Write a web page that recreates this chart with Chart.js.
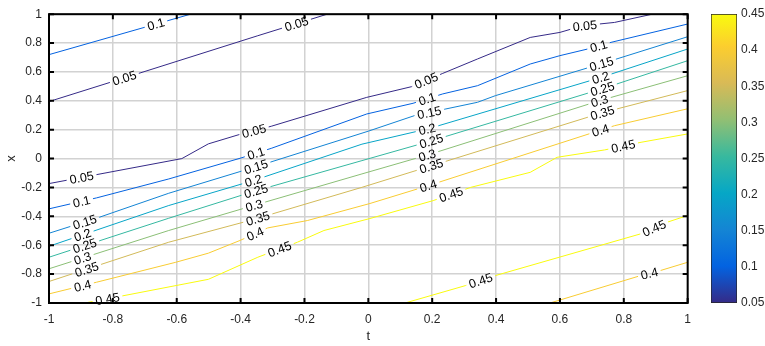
<!DOCTYPE html>
<html>
<head>
<meta charset="utf-8">
<script src="https://cdn.jsdelivr.net/npm/chart.js@4.4.1/dist/chart.umd.min.js"></script>
<style>
html,body{margin:0;padding:0;background:#fff;}
#wrap{position:relative;width:765px;height:346px;overflow:hidden;background:#fff;}
#main{position:absolute;left:0;top:0;}
#cbar{position:absolute;left:700px;top:0;}
</style>
</head>
<body>
<div id="wrap">
<canvas id="main" width="700" height="346"></canvas>
<canvas id="cbar" width="65" height="346"></canvas>
</div>
<script>
// ---------------- data ----------------
const T_TICKS = [-1, -0.8, -0.6, -0.4, -0.2, 0, 0.2, 0.4, 0.6, 0.8, 1];
const X_TICKS = [-1, -0.8, -0.6, -0.4, -0.2, 0, 0.2, 0.4, 0.6, 0.8, 1];
const CB_TICKS = [0.05, 0.1, 0.15, 0.2, 0.25, 0.3, 0.35, 0.4, 0.45];
const LEVEL_MIN = 0.05, LEVEL_MAX = 0.45;

// contour polylines: t values, x values, label positions (t)
const c005top_t = [-1, -0.712, -0.346, -0.129];
const c005top_x = [0.395, 0.595, 0.851, 1.0];
const c005top_lab = [-0.764, -0.225];

const c010top_t = [-1, -0.557];
const c010top_x = [0.72, 1.0];
const c010top_lab = [-0.665];

const c005_t = [-1, -0.584, -0.501, -0.408, -0.304, -0.005, 0.135, 0.233, 0.342, 0.507, 0.600, 0.671, 0.771, 0.889];
const c005_x = [-0.173, 0.0, 0.102, 0.164, 0.224, 0.424, 0.498, 0.590, 0.690, 0.839, 0.874, 0.920, 0.943, 1.0];
const c005_lab = [-0.898, -0.358, 0.181, 0.678];

const c010_t = [-1, -0.851, -0.625, -0.402, -0.304, -0.005, 0.140, 0.233, 0.342, 0.507, 0.600, 0.687, 0.760, 1.0];
const c010_x = [-0.348, -0.272, -0.141, 0.002, 0.071, 0.309, 0.383, 0.448, 0.505, 0.655, 0.713, 0.759, 0.805, 0.932];
const c010_lab = [-0.898, -0.352, 0.184, 0.721];

const c015_t = [-1, -0.842, -0.625, -0.402, -0.309, 0, 0.145, 0.243, 0.342, 0.398, 0.73, 1];
const c015_x = [-0.517, -0.406, -0.240, -0.090, -0.026, 0.19, 0.298, 0.344, 0.390, 0.436, 0.657, 0.844];
const c015_lab = [-0.888, -0.352, 0.191, 0.730];

const c020_t = [-1, -0.625, -0.36, -0.02, 0.19, 0.727, 1];
const c020_x = [-0.607, -0.325, -0.152, 0.10, 0.208, 0.561, 0.759];
const c020_lab = [-0.895, -0.36, 0.184, 0.727];

const c025_t = [-1, -0.625, -0.36, -0.02, 0.19, 0.733, 1];
const c025_x = [-0.683, -0.413, -0.228, -0.014, 0.118, 0.484, 0.678];
const c025_lab = [-0.888, -0.352, 0.197, 0.733];

const c030_t = [-1, -0.625, -0.36, -0.02, 0.19, 0.724, 1];
const c030_x = [-0.763, -0.498, -0.325, -0.106, 0.028, 0.401, 0.574];
const c030_lab = [-0.895, -0.358, 0.184, 0.724];

const c035_t = [-1, -0.625, -0.36, -0.02, 0.19, 0.733, 1];
const c035_x = [-0.851, -0.579, -0.422, -0.199, -0.055, 0.318, 0.471];
const c035_lab = [-0.882, -0.346, 0.197, 0.733];

const c040_t = [-1, -0.851, -0.603, -0.501, -0.402, -0.315, -0.191, 0.005, 0.188, 0.771, 1];
const c040_x = [-0.937, -0.856, -0.718, -0.655, -0.567, -0.48, -0.429, -0.311, -0.187, 0.228, 0.345];
const c040_lab = [-0.895, -0.355, 0.188, 0.727];

const c045_t = [-0.888, -0.78, -0.501, -0.346, -0.222, -0.139, 0.005, 0.203, 0.321, 0.507, 0.591, 0.740, 0.854, 1.0];
const c045_x = [-1.0, -0.955, -0.836, -0.683, -0.579, -0.498, -0.415, -0.291, -0.199, -0.095, 0.009, 0.060, 0.113, 0.171];
const c045_lab = [-0.817, -0.278, 0.259, 0.798];

const c045low_t = [0.115, 0.305, 0.398, 0.853, 0.935, 1.0];
const c045low_x = [-1.0, -0.879, -0.810, -0.521, -0.441, -0.394];
const c045low_lab = [0.352, 0.895];

const c040low_t = [0.569, 0.853, 0.915, 1.0];
const c040low_x = [-1.0, -0.810, -0.775, -0.718];
const c040low_lab = [0.88];

const CONTOURS = [
  {level: 0.05, t: c005top_t, x: c005top_x, labels: c005top_lab},
  {level: 0.1,  t: c010top_t, x: c010top_x, labels: c010top_lab},
  {level: 0.05, t: c005_t, x: c005_x, labels: c005_lab},
  {level: 0.1,  t: c010_t, x: c010_x, labels: c010_lab},
  {level: 0.15, t: c015_t, x: c015_x, labels: c015_lab},
  {level: 0.2,  t: c020_t, x: c020_x, labels: c020_lab},
  {level: 0.25, t: c025_t, x: c025_x, labels: c025_lab},
  {level: 0.3,  t: c030_t, x: c030_x, labels: c030_lab},
  {level: 0.35, t: c035_t, x: c035_x, labels: c035_lab},
  {level: 0.4,  t: c040_t, x: c040_x, labels: c040_lab},
  {level: 0.45, t: c045_t, x: c045_x, labels: c045_lab},
  {level: 0.45, t: c045low_t, x: c045low_x, labels: c045low_lab},
  {level: 0.4,  t: c040low_t, x: c040low_x, labels: c040low_lab}
];

// ---------------- styling ----------------
const FONT = '"Liberation Sans", Arial, Helvetica, sans-serif';
const LABEL_FONT = '12.5px ' + FONT;
const AXIS_COLOR = '#262626';
const PARULA = [
  [0.000, [53, 42, 135]],
  [0.127, [3, 99, 225]],
  [0.254, [20, 133, 212]],
  [0.381, [6, 167, 198]],
  [0.508, [56, 185, 158]],
  [0.635, [146, 191, 115]],
  [0.762, [217, 186, 86]],
  [0.889, [252, 206, 46]],
  [1.000, [249, 251, 14]]
];
function parula(f) {
  f = Math.max(0, Math.min(1, f));
  for (let i = 0; i < PARULA.length - 1; i++) {
    const [f0, c0] = PARULA[i], [f1, c1] = PARULA[i + 1];
    if (f <= f1) {
      const u = (f - f0) / (f1 - f0);
      const c = c0.map((v, k) => Math.round(v + u * (c1[k] - v)));
      return `rgb(${c[0]},${c[1]},${c[2]})`;
    }
  }
  const c = PARULA[PARULA.length - 1][1];
  return `rgb(${c[0]},${c[1]},${c[2]})`;
}
function fmt(v) { return String(Math.round(v * 100) / 100); }
const levelColor = lv => parula((lv - LEVEL_MIN) / (LEVEL_MAX - LEVEL_MIN));

// ---------------- plugins ----------------
const framePlugin = {
  id: 'frame',
  afterDatasetsDraw(chart) {
    const ctx = chart.ctx, a = chart.chartArea;
    const xs = chart.scales.x, ys = chart.scales.y;
    ctx.save();
    if (chart.$labels) {
      ctx.font = LABEL_FONT;
      ctx.fillStyle = '#000';
      ctx.textAlign = 'center';
      ctx.textBaseline = 'middle';
      chart.$labels.forEach(l => {
        ctx.save();
        ctx.translate(l.x, l.y);
        ctx.rotate(l.ang);
        ctx.fillText(l.txt, 0, 1);
        ctx.restore();
      });
    }
    ctx.strokeStyle = '#000';
    ctx.lineWidth = 2;
    const L = 5;
    ctx.beginPath();
    xs.ticks.forEach(tk => {
      const p = xs.getPixelForValue(tk.value);
      ctx.moveTo(p, a.bottom); ctx.lineTo(p, a.bottom - L);
      ctx.moveTo(p, a.top); ctx.lineTo(p, a.top + L);
    });
    ys.ticks.forEach(tk => {
      const p = ys.getPixelForValue(tk.value);
      ctx.moveTo(a.left, p); ctx.lineTo(a.left + L, p);
      ctx.moveTo(a.right, p); ctx.lineTo(a.right - L, p);
    });
    ctx.stroke();
    ctx.lineWidth = 2;
    ctx.strokeRect(a.left, a.top, a.right - a.left, a.bottom - a.top);
    ctx.fillStyle = AXIS_COLOR;
    ctx.font = '13px ' + FONT;
    ctx.textAlign = 'center';
    ctx.textBaseline = 'middle';
    ctx.fillText('t', (a.left + a.right) / 2, 336);
    ctx.save();
    ctx.translate(11, (a.top + a.bottom) / 2);
    ctx.rotate(-Math.PI / 2);
    ctx.fillText('x', 0, 0);
    ctx.restore();
    ctx.restore();
  }
};

// ---------------- main chart ----------------
const mainCtx = document.getElementById('main').getContext('2d');
const tickFont = {family: FONT, size: 12};
const chart = new Chart(mainCtx, {
  type: 'scatter',
  data: {
    datasets: CONTOURS.map(c => ({
      data: c.t.map((t, i) => ({x: t, y: c.x[i]})),
      showLine: true,
      borderColor: levelColor(c.level),
      backgroundColor: levelColor(c.level),
      borderWidth: 1,
      pointRadius: 0,
      pointHoverRadius: 0,
      fill: false,
      tension: 0,
      spanGaps: false
    }))
  },
  options: {
    responsive: false,
    animation: false,
    events: [],
    plugins: {legend: {display: false}, tooltip: {enabled: false}},
    layout: {padding: {left: 0, right: 6, top: 13, bottom: 0}},
    scales: {
      x: {
        type: 'linear', min: -1, max: 1,
        afterBuildTicks: s => { s.ticks = T_TICKS.map(v => ({value: v})); },
        afterFit: s => { s.height = 43; },
        grid: {color: '#d2d2d2', lineWidth: 1.5, drawTicks: false},
        border: {display: false},
        ticks: {padding: 9, color: AXIS_COLOR, font: tickFont, maxRotation: 0, autoSkip: false,
                callback: v => fmt(v)}
      },
      y: {
        type: 'linear', min: -1, max: 1,
        afterBuildTicks: s => { s.ticks = X_TICKS.map(v => ({value: v})); },
        afterFit: s => { s.width = 49; },
        grid: {color: '#d2d2d2', lineWidth: 1.5, drawTicks: false},
        border: {display: false},
        ticks: {padding: 7, color: AXIS_COLOR, font: tickFont, autoSkip: false,
                callback: v => fmt(v)}
      }
    }
  },
  plugins: [framePlugin]
});

// break the contour lines where labels sit, and place labels (through the chart scales)
(function layoutLabels() {
  const xs = chart.scales.x, ys = chart.scales.y;
  const ctx = chart.ctx;
  ctx.save();
  ctx.font = LABEL_FONT;
  const labels = [];
  CONTOURS.forEach((c, di) => {
    const P = c.t.map((t, i) => [xs.getPixelForValue(t), ys.getPixelForValue(c.x[i])]);
    const S = [0];
    for (let i = 1; i < P.length; i++) S.push(S[i - 1] + Math.hypot(P[i][0] - P[i - 1][0], P[i][1] - P[i - 1][1]));
    const total = S[S.length - 1];
    const ptAt = s => {
      let j = 0;
      while (j < S.length - 2 && S[j + 1] < s) j++;
      const u = (S[j + 1] - S[j]) > 0 ? (s - S[j]) / (S[j + 1] - S[j]) : 0;
      const px = P[j][0] + u * (P[j + 1][0] - P[j][0]);
      const py = P[j][1] + u * (P[j + 1][1] - P[j][1]);
      return {x: xs.getValueForPixel(px), y: ys.getValueForPixel(py)};
    };
    const gaps = c.labels.map(tl => {
      let i = 0;
      while (i < c.t.length - 2 && c.t[i + 1] < tl) i++;
      const f = (tl - c.t[i]) / (c.t[i + 1] - c.t[i]);
      const s = S[i] + f * (S[i + 1] - S[i]);
      const txt = fmt(c.level);
      const w = ctx.measureText(txt).width;
      const half = w / 2 + 3;
      const px = P[i][0] + f * (P[i + 1][0] - P[i][0]);
      const py = P[i][1] + f * (P[i + 1][1] - P[i][1]);
      const ang = Math.atan2(P[i + 1][1] - P[i][1], P[i + 1][0] - P[i][0]);
      labels.push({x: px, y: py, ang, txt});
      return [s - half, s + half];
    });
    const inGap = s => gaps.some(g => s > g[0] && s < g[1]);
    const ev = S.map((s, i) => ({s, k: 1, i}));
    gaps.forEach(g => {
      ev.push({s: Math.max(0, g[0]), k: 2});
      ev.push({s: Math.min(total, g[1]), k: 0});
    });
    ev.sort((a, b) => a.s - b.s || a.k - b.k);
    const out = [];
    ev.forEach(e => {
      if (e.k === 1) {
        if (!inGap(e.s)) out.push({x: c.t[e.i], y: c.x[e.i]});
      } else if (e.k === 2) {
        const p = ptAt(e.s);
        out.push(p);
        out.push({x: p.x, y: null});
      } else {
        out.push(ptAt(e.s));
      }
    });
    chart.data.datasets[di].data = out;
  });
  ctx.restore();
  chart.$labels = labels;
  chart.update('none');
})();

// ---------------- colorbar ----------------
const cbCtx = document.getElementById('cbar').getContext('2d');
new Chart(cbCtx, {
  type: 'bar',
  data: {
    labels: [''],
    datasets: [{
      data: [[LEVEL_MIN, LEVEL_MAX]],
      backgroundColor: (c) => {
        const a = c.chart.chartArea;
        if (!a) return '#888';
        const g = c.chart.ctx.createLinearGradient(0, a.bottom, 0, a.top);
        PARULA.forEach(([f, col]) => g.addColorStop(f, `rgb(${col[0]},${col[1]},${col[2]})`));
        return g;
      },
      borderColor: '#262626',
      borderWidth: 1,
      borderSkipped: false,
      barPercentage: 1,
      categoryPercentage: 1
    }]
  },
  options: {
    responsive: false,
    animation: false,
    events: [],
    plugins: {legend: {display: false}, tooltip: {enabled: false}},
    layout: {padding: {left: 11, right: 0, top: 14, bottom: 43}},
    scales: {
      x: {display: false},
      y: {
        position: 'right', min: LEVEL_MIN, max: LEVEL_MAX,
        afterBuildTicks: s => { s.ticks = CB_TICKS.map(v => ({value: v})); },
        afterFit: s => { s.width = 28; },
        grid: {display: false, drawTicks: false},
        border: {display: false},
        ticks: {padding: 4, color: AXIS_COLOR, font: tickFont, autoSkip: false,
                callback: v => fmt(v)}
      }
    }
  }
});
</script>
</body>
</html>
